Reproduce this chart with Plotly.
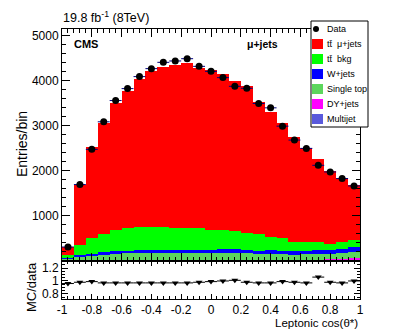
import numpy as np
import plotly.graph_objects as go

# 25 bins in leptonic cos(theta*) from -1 to 1
edges = np.linspace(-1, 1, 26)
centers = 0.5 * (edges[:-1] + edges[1:])
bw = edges[1] - edges[0]

data = [310, 1697, 2478, 3090, 3562, 3827, 4093, 4270, 4410, 4440, 4491, 4321, 4210,
        4071, 3878, 3834, 3496, 3400, 2993, 2684, 2500, 2124, 1976, 1830, 1666]
tt_mujets = [167, 1330, 2020, 2466, 2816, 3046, 3281, 3451, 3556, 3626, 3661, 3561, 3536,
             3466, 3331, 3271, 2941, 2780, 2570, 2330, 2089, 1835, 1616, 1429, 1223]
tt_bkg = [60, 215, 335, 400, 470, 505, 530, 530, 525, 490, 490, 480, 450,
          420, 400, 370, 360, 290, 270, 215, 195, 175, 150, 155, 140]
wjets = [15, 30, 35, 40, 50, 55, 60, 60, 60, 65, 70, 70, 70,
         80, 75, 80, 70, 80, 75, 75, 80, 85, 75, 85, 110]
single_top = [45, 90, 110, 130, 140, 145, 150, 150, 150, 150, 150, 150, 150,
              160, 160, 145, 135, 135, 130, 115, 125, 130, 125, 135, 150]
dyjets = [3, 5, 5, 6, 6, 6, 6, 6, 6, 6, 6, 6, 6,
          6, 6, 6, 6, 7, 7, 7, 8, 10, 12, 18, 22]
multijet = [10, 15, 15, 18, 18, 18, 18, 18, 18, 18, 18, 18, 18,
            18, 18, 18, 18, 18, 18, 18, 18, 20, 22, 28, 35]
ratio = [0.96, 0.98, 0.99, 0.97, 0.97, 0.97, 0.97, 0.97, 0.97, 0.97, 0.97, 0.98, 0.99,
         1.00, 1.01, 0.98, 0.97, 0.97, 0.99, 0.98, 0.97, 1.06, 0.98, 0.97, 1.00]

TT = "tt\u0304"
stack = [("Multijet", multijet, "#5a5adc"),
         ("DY+jets", dyjets, "#ff00ff"),
         ("Single top", single_top, "#5cd65c"),
         ("W+jets", wjets, "#0000ff"),
         (TT + "  bkg", tt_bkg, "#00ff00"),
         (TT + "  \u03bc+jets", tt_mujets, "#ff0000")]

FONT = "Liberation Sans, Arial, sans-serif"
fig = go.Figure()
for name, vals, col in stack:
    fig.add_trace(go.Bar(x=centers, y=vals, width=bw, name=name, marker_color=col,
                         marker_line_width=0, xaxis="x", yaxis="y"))
fig.add_trace(go.Scatter(x=centers, y=data, mode="markers", name="Data",
                         marker=dict(color="black", size=7, symbol="circle"),
                         error_x=dict(type="constant", value=bw / 2, color="#000080",
                                      thickness=1, width=0),
                         xaxis="x", yaxis="y"))
fig.add_trace(go.Scatter(x=centers, y=ratio, mode="markers",
                         marker=dict(color="black", size=6, symbol="triangle-down"),
                         error_x=dict(type="constant", value=bw / 2, color="black",
                                      thickness=1, width=0),
                         xaxis="x2", yaxis="y2"))

W, H = 399, 332
L, R, T, B = 62, 39, 29, 33
split = 38 / 270.0  # ratio pad height fraction

axis_common = dict(showgrid=False, zeroline=False, showline=True, linecolor="black",
                   linewidth=1, mirror="ticks", ticks="inside", tickcolor="black",
                   tickfont=dict(family=FONT, size=12, color="black"))

fig.update_layout(
    width=W, height=H, margin=dict(l=L, r=R, t=T, b=B),
    paper_bgcolor="white", plot_bgcolor="white",
    barmode="stack", bargap=0, showlegend=False,
    font=dict(family=FONT, color="black"),
    xaxis=dict(axis_common, domain=[0, 1], anchor="y", range=[-1, 1],
               showticklabels=False, tick0=-1, dtick=0.2, ticklen=8,
               minor=dict(dtick=0.04, ticklen=4, ticks="inside", tickcolor="black")),
    yaxis=dict(axis_common, domain=[split, 1], anchor="x", range=[0, 5150],
               tickvals=[1000, 2000, 3000, 4000, 5000], ticklen=8,
               minor=dict(tick0=0, dtick=200, ticklen=4, ticks="inside", tickcolor="black")),
    xaxis2=dict(axis_common, domain=[0, 1], anchor="y2", range=[-1, 1],
                tickvals=[-1, -0.8, -0.6, -0.4, -0.2, 0, 0.2, 0.4, 0.6, 0.8, 1],
                ticktext=["-1", "-0.8", "-0.6", "-0.4", "-0.2", "0", "0.2", "0.4",
                          "0.6", "0.8", "1"], ticklen=5,
                minor=dict(dtick=0.04, tick0=-1, ticklen=3, ticks="inside", tickcolor="black")),
    yaxis2=dict(axis_common, domain=[0, split], anchor="x2", range=[0.72, 1.31],
                tickvals=[0.8, 1.0, 1.2], ticktext=["0.8", "1", "1.2"], ticklen=6,
                minor=dict(tick0=0.7, dtick=0.05, ticklen=3, ticks="inside", tickcolor="black")),
)


def px(x):
    return (x - L) / (W - L - R)


def py(y):
    return (H - B - y) / (H - T - B)


ann = [
    dict(text="19.8 fb<sup>-1</sup> (8TeV)", x=px(61), y=py(17), xanchor="left",
         yanchor="middle", font=dict(size=12.5)),
    dict(text="<b>CMS</b>", x=px(72), y=py(44), xanchor="left", yanchor="middle",
         font=dict(size=11)),
    dict(text="<b>\u03bc+jets</b>", x=px(245), y=py(44), xanchor="left", yanchor="middle",
         font=dict(size=10.5)),
    dict(text="Entries/bin", x=px(22), y=py(144), textangle=-90, xanchor="center",
         yanchor="middle", font=dict(size=14)),
    dict(text="MC/data", x=px(31), y=py(287), textangle=-90, xanchor="center",
         yanchor="middle", font=dict(size=13)),
    dict(text="Leptonic cos(\u03b8*)", x=px(360), y=py(323), xanchor="right",
         yanchor="middle", font=dict(size=11.5)),
]

# legend box drawn by hand
shapes = [dict(type="rect", xref="paper", yref="paper", x0=px(311), x1=px(368),
               y0=py(127), y1=py(21), fillcolor="white", line=dict(color="black", width=1),
               layer="above"),
          dict(type="circle", xref="paper", yref="paper", x0=px(313), x1=px(319),
               y0=py(32), y1=py(26), fillcolor="black", line=dict(color="black", width=0),
               layer="above")]
ann.append(dict(text="Data", x=px(325), y=py(29), xanchor="left", yanchor="middle",
                font=dict(size=9)))
leg_rows = [(TT + "  \u03bc+jets", "#ff0000"), (TT + "  bkg", "#00ff00"),
            ("W+jets", "#0000ff"), ("Single top", "#5cd65c"),
            ("DY+jets", "#ff00ff"), ("Multijet", "#5a5adc")]
for i, (lab, col) in enumerate(leg_rows):
    yc = 44 + 15 * i
    shapes.append(dict(type="rect", xref="paper", yref="paper", x0=px(312), x1=px(323),
                       y0=py(yc + 5), y1=py(yc - 5), fillcolor=col, line=dict(width=0),
                       layer="above"))
    ann.append(dict(text=lab, x=px(325), y=py(yc), xanchor="left", yanchor="middle",
                    font=dict(size=9)))

for a in ann:
    a.update(xref="paper", yref="paper", showarrow=False)
fig.update_layout(annotations=ann, shapes=shapes)

# drop the default page margin so the figure fills the window exactly
fig.write_html("out.html", config={"displayModeBar": False},
               post_script="document.body.style.margin='0';")
